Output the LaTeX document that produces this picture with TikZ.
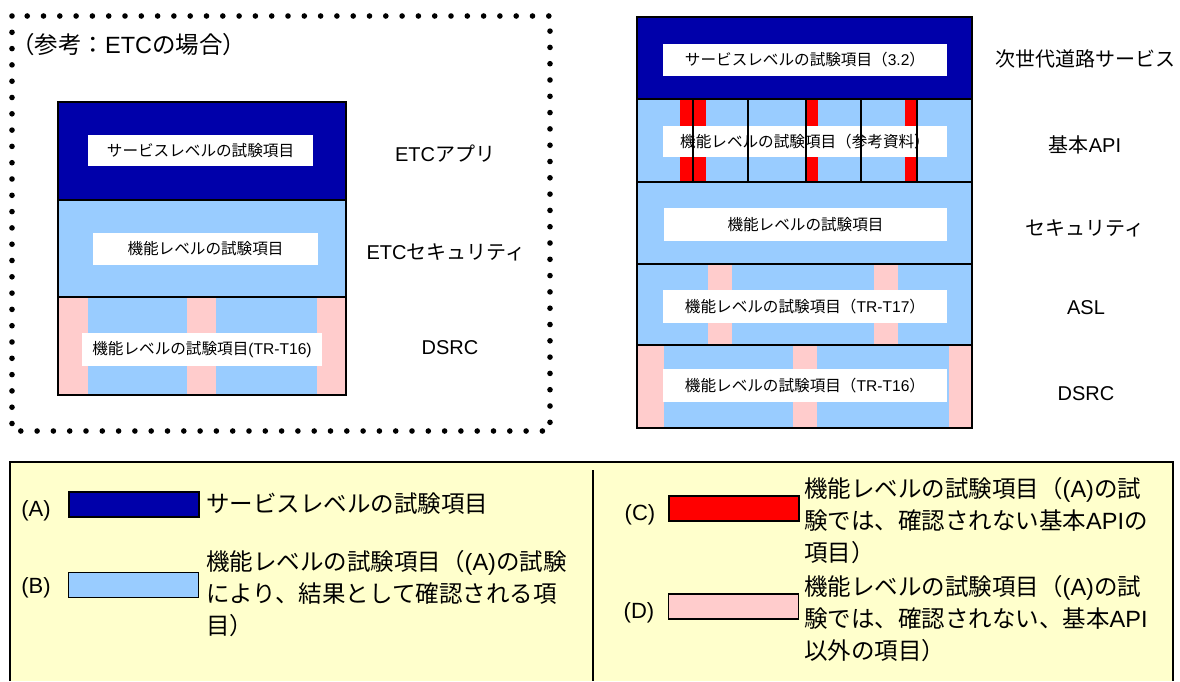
\documentclass[tikz,border=0pt]{standalone}
\usepackage{fontspec}
\setmainfont{Noto Sans CJK JP}
\newfontfamily\ar{Liberation Sans}
\definecolor{navy}{HTML}{0000AA}
\definecolor{lblue}{HTML}{99CCFF}
\definecolor{lpink}{HTML}{FFCCCC}
\definecolor{lred}{HTML}{FF0000}
\definecolor{lyellow}{HTML}{FFFFCC}
\begin{document}
\begin{tikzpicture}[x=1pt,y=-1pt,
  wbox/.style={fill=white, inner sep=0pt, font=\fontsize{15.6}{18}\selectfont},
  biglbl/.style={font=\fontsize{20}{24}\selectfont, inner sep=0pt},
  leg/.style={font=\fontsize{23.5}{32}\selectfont, align=left, anchor=west, inner sep=0pt},
  legl/.style={font=\ar\fontsize{22}{24}\selectfont, inner sep=0pt},
  swatch/.style={draw=black, line width=1.6pt, minimum width=130pt, minimum height=25pt, inner sep=0pt},
  border/.style={draw=black, line width=1.6pt},
  thin/.style={draw=black, line width=1.2pt},
]
\useasboundingbox (0,0) rectangle (1180,681);

% ---------- left dotted frame ----------
\draw[line width=5.6pt, dash pattern=on 0pt off 16.3pt, line cap=round] (12,16) rectangle (550,431);
\node[anchor=west, font=\fontsize{23.5}{26}\selectfont, inner sep=0pt] (ref) at (11,45) {（参考：{\ar ETC}の場合）};

% left stack
\fill[navy] (58,102) rectangle (346,200);
\fill[lblue] (58,200) rectangle (346,395);
\fill[lpink] (58,297) rectangle (88,395);
\fill[lpink] (187,297) rectangle (216,395);
\fill[lpink] (317,297) rectangle (346,395);
\node[wbox, minimum width=225pt, minimum height=31pt] (l1) at (200.5,150.5) {サービスレベルの試験項目};
\node[wbox, minimum width=225pt, minimum height=32pt] (l2) at (205.5,249) {機能レベルの試験項目};
\node[wbox, minimum width=240pt, minimum height=33pt] (l3) at (202,349.5) {機能レベルの試験項目{\ar (TR-T16)}};
\draw[border] (58,102) rectangle (346,395);
\draw[border] (58,200) -- (346,200);
\draw[border] (58,297) -- (346,297);

\node[biglbl] (etcapp) at (445,154) {{\ar ETC}アプリ};
\node[biglbl] (etcsec) at (446,252) {{\ar ETC}セキュリティ};
\node[biglbl] (ldsrc) at (450,348) {\ar DSRC};

% ---------- right stack ----------
\fill[navy] (637,17) rectangle (972,99);
\fill[lblue] (637,99) rectangle (972,428);
\fill[lred] (680,99) rectangle (693,182);
\fill[lred] (693,99) rectangle (706,182);
\fill[lred] (806,99) rectangle (818,182);
\fill[lred] (905,99) rectangle (917,182);
\fill[lpink] (708,264) rectangle (732,345);
\fill[lpink] (874,264) rectangle (898,345);
\fill[lpink] (637,345) rectangle (664,428);
\fill[lpink] (793,345) rectangle (817,428);
\fill[lpink] (949,345) rectangle (972,428);

\node[wbox, minimum width=284pt, minimum height=32pt] (r1) at (805,60) {サービスレベルの試験項目（{\ar 3.2}）};
\node[wbox, minimum width=284pt, minimum height=31pt] (r2) at (805,141.5) {機能レベルの試験項目（参考資料）};
\node[wbox, minimum width=283pt, minimum height=33pt] (r3) at (805.5,224.5) {機能レベルの試験項目};
\node[wbox, minimum width=284pt, minimum height=33pt] (r4) at (805,306.5) {機能レベルの試験項目（{\ar TR-T17}）};
\node[wbox, minimum width=284pt, minimum height=33pt] (r5) at (805,385.5) {機能レベルの試験項目（{\ar TR-T16}）};

\draw[border] (637,17) rectangle (972,428);
\foreach \yy in {99,182,264,345} \draw[border] (637,\yy) -- (972,\yy);
\foreach \xx in {693,748,806,861,917} \draw[thin] (\xx,99) -- (\xx,182);

\node[biglbl] (rsvc) at (1085,59) {次世代道路サービス};
\node[biglbl] (rapi) at (1085,145) {基本{\ar API}};
\node[biglbl] (rsec) at (1085,228) {セキュリティ};
\node[biglbl] (rasl) at (1086,308) {\ar ASL};
\node[biglbl] (rdsrc) at (1086,394) {\ar DSRC};

% ---------- legend ----------
\fill[lyellow] (10,462) rectangle (1173,681);
\draw[border] (10,681) -- (10,462) -- (1173,462) -- (1173,681);
\draw[border] (593,470) -- (593,681);

\node[legl] (la) at (36,511) {(A)};
\node[swatch, fill=navy] (sa) at (134,504.5) {};
\node[leg] (ta) at (206,504) {サービスレベルの試験項目};

\node[legl] (lb) at (36,588) {(B)};
\node[swatch, fill=lblue] (sb) at (133.5,585) {};
\node[leg] (tb) at (206,594) {機能レベルの試験項目（{\ar (A)}の試験\\により、結果として確認される項\\目）};

\node[legl] (lc) at (640,515) {(C)};
\node[swatch, fill=lred] (sc) at (734,508.5) {};
\node[leg] (tc) at (804,521) {機能レベルの試験項目（{\ar (A)}の試\\験では、確認されない基本{\ar API}の\\項目）};

\node[legl] (ld) at (639,613) {(D)};
\node[swatch, fill=lpink] (sd) at (733.5,606.5) {};
\node[leg] (td) at (804,619) {機能レベルの試験項目（{\ar (A)}の試\\験では、確認されない、基本{\ar API}\\以外の項目）};
\end{tikzpicture}
\end{document}
